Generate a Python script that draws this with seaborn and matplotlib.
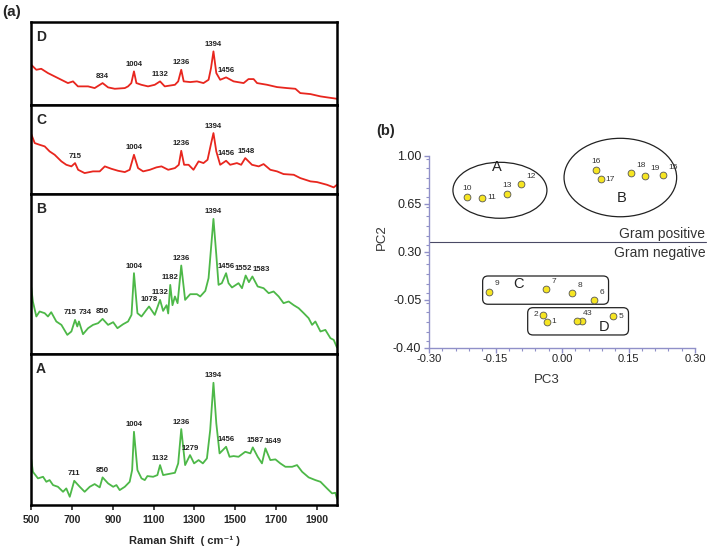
import numpy as np
import pandas as pd
import seaborn as sns
import matplotlib.pyplot as plt
from matplotlib.patches import Ellipse, FancyBboxPatch
from matplotlib.ticker import MultipleLocator, FormatStrFormatter

#------------------------- (a) Raman spectra -------------------------#
wn_D = [500, 525, 549, 582, 631, 680, 705, 729, 779, 811, 850, 877, 910, 959, 975, 991, 1004, 1016, 1040, 1073,
        1106, 1132, 1155, 1205, 1221, 1236, 1248, 1280, 1313, 1345, 1370, 1382, 1394, 1408, 1427, 1456, 1493, 1542,
        1566, 1591, 1608, 1657, 1706, 1755, 1796, 1820, 1870, 1919, 1952, 2000]
int_D = [40, 35, 36, 31.7, 26.7, 21.7, 23.4, 18.4, 18.4, 16.7, 21.7, 17.4, 16, 16.7, 18.4, 21.7, 33.4, 21.7, 20, 18.4,
         20, 23.4, 18.4, 20, 23.4, 35, 23.4, 22.7, 23.4, 21.7, 25, 36.7, 53.4, 31.7, 25, 27.4, 23.4, 21.7,
         25.7, 25.7, 21.7, 20, 17.7, 16.7, 16, 11.7, 10.7, 8.4, 7.4, 6]
peaks_D = [834, 1004, 1132, 1236, 1394, 1456]

wn_C = [500, 517, 541, 566, 590, 615, 648, 672, 697, 715, 730, 762, 803, 836, 861, 893, 926, 959, 983, 1004,
        1024, 1049, 1082, 1114, 1139, 1172, 1205, 1224, 1236, 1250, 1272, 1296, 1321, 1345, 1365, 1381, 1394, 1408,
        1427, 1456, 1476, 1509, 1530, 1550, 1583, 1616, 1640, 1673, 1706, 1738, 1788, 1820, 1870, 1902, 1951,
        1984, 2000]
int_C = [59.5, 50.5, 48.8, 47.2, 42.2, 38.8, 32.2, 28.8, 27.2, 30.5, 23.8, 20.5, 22.2, 22.2, 27.2, 24.8, 22.8, 21.5,
         23.8, 38.8, 25.5, 22.2, 23.8, 26.2, 27.2, 23.8, 25.5, 28.8, 42.8, 28.8, 28.8, 23.8, 32.2, 30.5, 33.8, 48.8,
         60.5, 42.2, 28.8, 32.8, 28.8, 30.5, 28.8, 35.5, 28.8, 27.2, 29.5, 23.8, 22.2, 19.5, 18.8, 15.5, 12.2, 11.5,
         8.8, 6.2, 8.8]
peaks_C = [715, 1004, 1236, 1394, 1456, 1548]

wn_B = [500, 508, 525, 541, 566, 582, 598, 623, 648, 677, 697, 715, 726, 734, 754, 779, 803, 828, 850, 877,
        902, 923, 951, 975, 992, 1004, 1021, 1041, 1065, 1078, 1106, 1132, 1147, 1164, 1172, 1182, 1193, 1205,
        1218, 1236, 1255, 1280, 1313, 1329, 1354, 1370, 1394, 1408, 1419, 1435, 1456, 1468, 1485, 1517, 1534,
        1552, 1568, 1585, 1611, 1640, 1665, 1689, 1714, 1738, 1763, 1788, 1812, 1837, 1861, 1878, 1894, 1919,
        1943, 1968, 1984, 2000]
int_B = [66.4, 52.4, 37.4, 42.4, 40.7, 37.4, 41.7, 32.4, 29, 19, 22.4, 34, 27.4, 32.4, 19.7, 25.7, 29, 30.7, 35, 29,
         31.7, 25.7, 29.7, 32.4, 39, 80.7, 40.7, 37.4, 44, 47.4, 39, 54, 43, 48.7, 40.4, 69, 48.7, 57.4, 50.7, 88.4,
         54, 59.7, 59.7, 57.4, 63, 75.7, 135, 99, 69, 70.7, 80.7, 70.7, 66.4, 70.7, 65.7, 78.4, 71.7, 77.4, 67.4,
         65.7, 60.7, 62.4, 57.4, 50.7, 52.4, 48.7, 45.7, 40.7, 35.7, 29, 32.4, 22.4, 24, 15.7, 14, 6.4]
peaks_B = [715, 734, 850, 1004, 1078, 1132, 1182, 1236, 1394, 1456, 1552, 1583]

wn_A = [500, 508, 533, 558, 574, 590, 607, 631, 656, 672, 689, 711, 738, 762, 787, 811, 836, 850, 877, 902,
        918, 934, 959, 983, 995, 1004, 1021, 1041, 1057, 1070, 1098, 1119, 1132, 1147, 1172, 1205, 1221, 1236,
        1255, 1279, 1299, 1321, 1342, 1362, 1378, 1394, 1408, 1424, 1456, 1473, 1493, 1517, 1550, 1575, 1587,
        1611, 1632, 1649, 1673, 1698, 1722, 1747, 1780, 1804, 1829, 1861, 1894, 1919, 1951, 1976, 1992, 2000]
int_A = [45.7, 33.3, 26.7, 28.3, 23.3, 25, 20, 18.3, 13.3, 16.7, 8.3, 24.3, 18.3, 13.3, 18.3, 21, 17.7, 27.7, 21.7,
         18.3, 20, 15, 18.3, 23.3, 35, 73.3, 35, 26.7, 25, 29, 28.3, 30, 40, 30, 31, 32.3, 41.7, 76, 40, 50,
         41.7, 45, 41.7, 46.7, 75, 122.3, 81.7, 51.7, 58.3, 48.3, 49, 48.3, 53.3, 51.7, 57.7, 48.3, 41.7, 56.7,
         45, 45.7, 41.7, 38.3, 38.3, 40, 33.3, 27.7, 25, 23.3, 16.7, 11.7, 12.3, 6.7]
peaks_A = [711, 850, 1004, 1132, 1236, 1279, 1394, 1456, 1587, 1649]

#------------------------- (b) PCA scores -------------------------#
pca_id = ['1', '2', '3', '4', '5', '6', '7', '8', '9', '10', '11', '12', '13', '15', '16', '17', '18', '19']
pc3 = [-0.034, -0.043, 0.044, 0.034, 0.116, 0.072, -0.035, 0.023, -0.165, -0.214, -0.180, -0.092, -0.124,
       0.227, 0.077, 0.087, 0.155, 0.187]
pc2 = [-0.210, -0.159, -0.203, -0.205, -0.167, -0.052, 0.030, 0.003, 0.011, 0.699, 0.696, 0.794, 0.721,
       0.861, 0.896, 0.830, 0.874, 0.854]
gram_split = 0.37

# label placement around each point (style only)
lab_dir = {'1': 'r', '2': 'l', '3': 'ur', '4': 'ur', '5': 'r', '6': 'ur', '7': 'ur', '8': 'ur', '9': 'ur',
           '10': 'u', '11': 'r', '12': 'ur', '13': 'u', '15': 'ur', '16': 'u', '17': 'r', '18': 'ur', '19': 'ur'}
place = {'ur': ((4, 3), 'left', 'bottom'), 'u': ((0, 3.5), 'center', 'bottom'),
         'r': ((3.5, 0), 'left', 'center'), 'l': ((-3.5, 0), 'right', 'center')}
# horizontal nudges of crowded peak labels (cm-1)
nudge = {('D', 834): 15, ('B', 715): -26, ('B', 734): 30, ('B', 1552): -14, ('B', 1583): 46,
         ('C', 1548): 5, ('A', 1587): 12, ('A', 1649): 38}

sns.set_style("white")
plt.rcParams['font.family'] = ['Liberation Sans', 'DejaVu Sans']
plt.rcParams['axes.unicode_minus'] = False

red = '#e8261e'
green = '#4db848'

fig = plt.figure(figsize=(7.1, 5.52), dpi=100)
gs = fig.add_gridspec(4, 1, left=0.044, right=0.4746, bottom=0.085, top=0.960,
                      height_ratios=[82.7, 88.8, 160.3, 151.2], hspace=0)

spectra = [('D', wn_D, int_D, peaks_D, red, 82.7),
           ('C', wn_C, int_C, peaks_C, red, 88.8),
           ('B', wn_B, int_B, peaks_B, green, 160.3),
           ('A', wn_A, int_A, peaks_A, green, 151.2)]

for i, (name, wn, inten, peaks, col, ytop) in enumerate(spectra):
    ax = fig.add_subplot(gs[i])
    df = pd.DataFrame({'wn': wn, 'intensity': inten})
    sns.lineplot(data=df, x='wn', y='intensity', ax=ax, color=col, lw=1.3)
    ax.set_xlim(500, 2000)
    ax.set_ylim(0, ytop)
    ax.set_xlabel('')
    ax.set_ylabel('')
    ax.set_yticks([])
    for s in ax.spines.values():
        s.set_visible(True)
        s.set_color('black')
        s.set_linewidth(1.8)
    ax.annotate(name, xy=(0, 1), xycoords='axes fraction', xytext=(3.5, -6), textcoords='offset points',
                ha='left', va='top', fontsize=10, fontweight='bold')
    wn_arr = np.array(wn)
    int_arr = np.array(inten)
    for p in peaks:
        # label sits just above the highest reading near the band
        near = np.abs(wn_arr - p) <= 20
        y = int_arr[near].max() if near.any() else np.interp(p, wn_arr, int_arr)
        ax.annotate(str(p), xy=(p + nudge.get((name, p), 0), y), xytext=(0, 2.5), textcoords='offset points',
                    ha='center', va='bottom', fontsize=5.6, fontweight='bold', color='#222222')
    if name == 'A':
        ax.set_xticks(range(500, 2000, 200))
        ax.tick_params(axis='x', direction='out', length=3.5, width=1.2, bottom=True, pad=3.5)
        for t in ax.get_xticklabels():
            t.set_fontweight('bold')
            t.set_fontsize(7.5)
        ax.set_xlabel('Raman Shift  ( cm⁻¹ )', fontsize=8, fontweight='bold', labelpad=8)
    else:
        ax.set_xticks([])

fig.text(12 / 710, 1 - 12 / 552, '(a)', fontsize=11, fontweight='bold', ha='center', va='center')

#------------------------- (b) -------------------------#
ax2 = fig.add_axes([429 / 710, 1 - 348 / 552, 266 / 710, 192 / 552])
pca = pd.DataFrame({'PC3': pc3, 'PC2': pc2, 'id': pca_id})
sns.scatterplot(data=pca, x='PC3', y='PC2', ax=ax2, s=24, color='#f6e522', edgecolor='#555555',
                linewidth=0.6, zorder=4, clip_on=False)
for _, r in pca.iterrows():
    off, ha, va = place[lab_dir[r['id']]]
    ax2.annotate(r['id'], xy=(r['PC3'], r['PC2']), xytext=off, textcoords='offset points',
                 ha=ha, va=va, fontsize=6, color='#333333')

ax2.set_xlim(-0.30, 0.30)
ax2.set_ylim(-0.40, 1.00)
ax2.add_patch(Ellipse((-0.140, 0.75), 0.212, 0.408, fill=False, ec='#222222', lw=0.9, clip_on=False))
ax2.add_patch(Ellipse((0.1316, 0.843), 0.254, 0.572, fill=False, ec='#222222', lw=0.9, clip_on=False))
ax2.add_patch(FancyBboxPatch((-0.179, -0.081), 0.284, 0.206, boxstyle='round,pad=0,rounding_size=0.012',
                             mutation_aspect=3.2, fill=False, ec='#222222', lw=0.9))
ax2.add_patch(FancyBboxPatch((-0.0774, -0.305), 0.2274, 0.199, boxstyle='round,pad=0,rounding_size=0.012',
                             mutation_aspect=3.2, fill=False, ec='#222222', lw=0.9))
for txt, x, y in [('A', -0.147, 0.922), ('B', 0.134, 0.692), ('C', -0.0985, 0.064), ('D', 0.095, -0.245)]:
    ax2.text(x, y, txt, fontsize=10.5, ha='center', va='center', color='#222222')

ax2.plot([-0.30, 0.325], [gram_split, gram_split], color='#4a4a66', lw=0.8, clip_on=False)
ax2.text(0.323, 0.40, 'Gram positive', ha='right', va='baseline', fontsize=10, color='#333333')
ax2.text(0.323, 0.266, 'Gram negative', ha='right', va='baseline', fontsize=10, color='#333333')

axis_col = '#9090c8'
for s in ['top', 'right']:
    ax2.spines[s].set_visible(False)
for s in ['left', 'bottom']:
    ax2.spines[s].set_color(axis_col)
    ax2.spines[s].set_linewidth(1.0)
ax2.set_xticks([-0.30, -0.15, 0.00, 0.15, 0.30])
ax2.set_yticks([-0.40, -0.05, 0.30, 0.65, 1.00])
ax2.xaxis.set_minor_locator(MultipleLocator(0.03))
ax2.yaxis.set_minor_locator(MultipleLocator(0.07))
ax2.xaxis.set_major_formatter(FormatStrFormatter('%.2f'))
ax2.yaxis.set_major_formatter(FormatStrFormatter('%.2f'))
ax2.tick_params(which='major', direction='out', length=3.5, width=1, color=axis_col, labelcolor='#222222',
                bottom=True, left=True)
ax2.tick_params(which='minor', direction='out', length=2.2, width=0.8, color=axis_col, bottom=True, left=True)
ax2.tick_params(axis='y', labelsize=9, pad=2)
ax2.tick_params(axis='x', labelsize=8, pad=0.5)
ax2.set_xlabel('PC3', fontsize=9.5, color='#333333')
ax2.set_ylabel('PC2', fontsize=9.5, color='#333333')
ax2.xaxis.set_label_coords(0.444, -0.135)
ax2.yaxis.set_label_coords(-0.154, 0.575)

fig.text(386 / 710, 1 - 131 / 552, '(b)', fontsize=10.5, fontweight='bold', ha='center', va='center')

fig.savefig('out.png', dpi=100)
